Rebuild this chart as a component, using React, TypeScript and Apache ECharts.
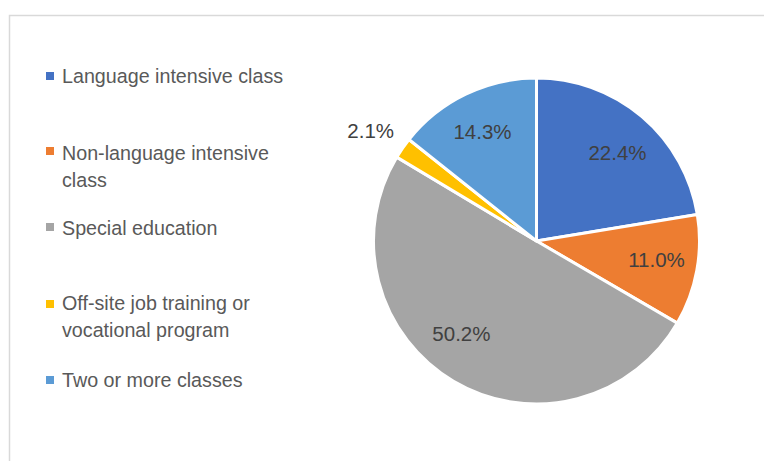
import React, { useEffect, useRef } from "react";
import * as echarts from "echarts";

const categories = [
  "Language intensive class",
  "Non-language intensive class",
  "Special education",
  "Off-site job training or vocational program",
  "Two or more classes",
];
const values = [22.4, 11.0, 50.2, 2.1, 14.3];
const colors = ["#4472C4", "#ED7D31", "#A5A5A5", "#FFC000", "#5B9BD5"];

// legend layout (positions only)
const legendMarkerY = [72, 147, 223, 300, 376];
const legendTextTop = [62, 139, 214, 289, 366];
// small label nudges (px) to mimic the original's label placement
const labelNudges: number[][] = [[2, 5], [0, -4], [-13, -13], [0, 0], [-1, 0]];

export default function App() {
  const ref = useRef<HTMLDivElement>(null);
  useEffect(() => {
    if (!ref.current) return;
    const chart = echarts.init(ref.current, null, { renderer: "svg" });
    const labelFont = "'Liberation Sans', Arial, sans-serif";
    const fmt = (p: any) => `${Number(p.value).toFixed(1)}%`;

    const graphic: any[] = [
      {
        type: "rect",
        shape: { x: 9.5, y: 15.5, width: 900, height: 600 },
        style: { fill: "none", stroke: "#d9d9d9", lineWidth: 1.5 },
        silent: true,
      },
    ];
    categories.forEach((name, i) => {
      graphic.push({
        type: "rect",
        shape: { x: 46, y: legendMarkerY[i], width: 8, height: 8 },
        style: { fill: colors[i] },
      });
      graphic.push({
        type: "text",
        x: 62,
        y: legendTextTop[i],
        style: {
          text: name,
          width: 240,
          overflow: "break",
          fill: "#595959",
          fontSize: 19.7,
          lineHeight: 27.5,
          fontFamily: "'Liberation Sans', Arial, sans-serif",
          verticalAlign: "top",
          align: "left",
        },
      });
    });

    chart.setOption({
      animation: false,
      graphic,
      series: [
        {
          type: "pie",
          center: [536.5, 241],
          radius: [0, 163],
          startAngle: 90,
          clockwise: true,
          avoidLabelOverlap: false,
          silent: true,
          itemStyle: { borderColor: "#ffffff", borderWidth: 3 },
          label: { show: false },
          labelLine: { show: false },
          data: categories.map((name, i) => {
            const item: any = {
              name,
              value: values[i],
              itemStyle: { color: colors[i] },
            };
            if (values[i] < 5) {
              item.label = {
                show: true,
                position: "outside",
                formatter: fmt,
                color: "#404040",
                fontSize: 20.5,
                fontFamily: labelFont,
                distanceToLabelLine: -17,
              };
              item.labelLine = { show: false, length: 31, length2: 0 };
            }
            return item;
          }),
        },
        {
          type: "pie",
          center: [536.5, 241],
          radius: [0, 238],
          startAngle: 90,
          clockwise: true,
          avoidLabelOverlap: false,
          silent: true,
          z: 5,
          itemStyle: { color: "rgba(0,0,0,0)", borderWidth: 0 },
          labelLine: { show: false },
          label: {
            show: true,
            position: "inside",
            formatter: fmt,
            color: "#404040",
            fontSize: 20.5,
            fontFamily: labelFont,
          },
          data: categories.map((name, i) => {
            const item: any = { name, value: values[i] };
            if (values[i] < 5) item.label = { show: false };
            else item.label = { offset: labelNudges[i] };
            return item;
          }),
        },
      ],
    });
    return () => chart.dispose();
  }, []);
  return (
    <div
      ref={ref}
      style={{ position: "fixed", left: 0, top: 0, width: 764, height: 461, background: "#ffffff" }}
    />
  );
}
